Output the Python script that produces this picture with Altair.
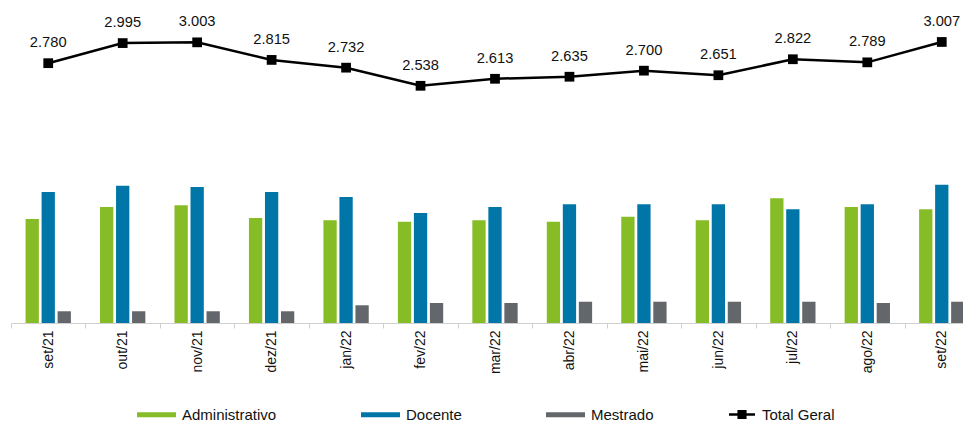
import altair as alt
import pandas as pd

months = ["set/21", "out/21", "nov/21", "dez/21", "jan/22", "fev/22", "mar/22",
          "abr/22", "mai/22", "jun/22", "jul/22", "ago/22", "set/22"]
administrativo = [1144, 1276, 1295, 1155, 1130, 1114, 1130, 1114, 1169, 1130, 1372, 1276, 1251]
docente = [1441, 1510, 1496, 1441, 1386, 1210, 1276, 1306, 1306, 1306, 1251, 1306, 1521]
mestrado = [129, 129, 129, 129, 195, 220, 220, 234, 234, 234, 234, 220, 234]
total_geral = [2780, 2995, 3003, 2815, 2732, 2538, 2613, 2635, 2700, 2651, 2822, 2789, 3007]

series = ["Administrativo", "Docente", "Mestrado"]
colors = ["#86bc25", "#0076a8", "#63666a"]

rows = []
for i, m in enumerate(months):
    for s, vals in zip(series, [administrativo, docente, mestrado]):
        rows.append({"mes": m, "serie": s, "valor": vals[i]})
bars_df = pd.DataFrame(rows)

line_df = pd.DataFrame({
    "mes": months,
    "total": total_geral,
    "serie": ["Total Geral"] * len(months),
    "label": [f"{v:,}".replace(",", ".") for v in total_geral],
})

FONT = "Liberation Sans"
x_axis = alt.Axis(title=None, labelAngle=270, labelFontSize=14, labelFont=FONT,
                  labelColor="#111111", domainColor="#d0d0d0", tickColor="#d0d0d0",
                  tickSize=5, tickBand="extent", labelPadding=2, grid=False)
x_enc = alt.X("mes:N", sort=months, axis=x_axis,
              scale=alt.Scale(paddingInner=0, paddingOuter=0, range=[0, 968]))

bars = alt.Chart(bars_df).mark_bar().encode(
    x=x_enc,
    xOffset=alt.XOffset("serie:N", sort=series,
                        scale=alt.Scale(paddingInner=0.17, paddingOuter=0.91)),
    y=alt.Y("valor:Q", axis=None, scale=alt.Scale(domain=[0, 3443], nice=False, zero=True)),
    color=alt.Color("serie:N", sort=series,
                    scale=alt.Scale(domain=series, range=colors),
                    legend=alt.Legend(title=None, orient="none", legendX=126, legendY=385,
                                      direction="horizontal",
                                      symbolType="M-1,-0.13H1V0.13H-1Z", symbolSize=1521,
                                      symbolStrokeWidth=0, labelFontSize=15, labelFont=FONT,
                                      labelColor="#111111", labelOffset=6, columnPadding=84)),
)

y_line = alt.Y("total:Q", axis=None, scale=alt.Scale(domain=[0, 3349], nice=False, zero=True))

line = alt.Chart(line_df).mark_line(color="black", strokeWidth=2.5).encode(
    x=x_enc, y=y_line)

points = alt.Chart(line_df).mark_point(shape="square", filled=True, size=95, opacity=1).encode(
    x=x_enc, y=y_line,
    color=alt.Color("serie:N", scale=alt.Scale(domain=["Total Geral"], range=["#000000"]),
                    legend=alt.Legend(title=None, orient="none", legendX=718, legendY=391.5,
                                      symbolType="M-1,-0.1H1V0.1H-1Z M-0.35,-0.35H0.35V0.35H-0.35Z",
                                      symbolSize=676, symbolStrokeWidth=0, labelFontSize=15,
                                      labelFont=FONT, labelColor="#111111", labelOffset=7)),
)

labels = alt.Chart(line_df).mark_text(font=FONT, fontSize=14.7, color="#111111",
                                      baseline="alphabetic", dy=-16).encode(
    x=x_enc, y=y_line, text="label:N")

top = alt.layer(line, points, labels)

chart = alt.layer(bars, top).resolve_scale(y="independent", color="independent").resolve_legend(
    color="independent"
).properties(
    width=952, height=313,
    background="white",
    autosize=alt.AutoSizeParams(type="none"),
    padding={"left": 3, "top": 2, "right": 0, "bottom": 100},
).configure_view(stroke="transparent", strokeOpacity=0).configure_axisY(
    domain=False, ticks=False, labels=False, grid=False
)

chart.save("out.html", embed_options={"renderer": "svg", "actions": False})
